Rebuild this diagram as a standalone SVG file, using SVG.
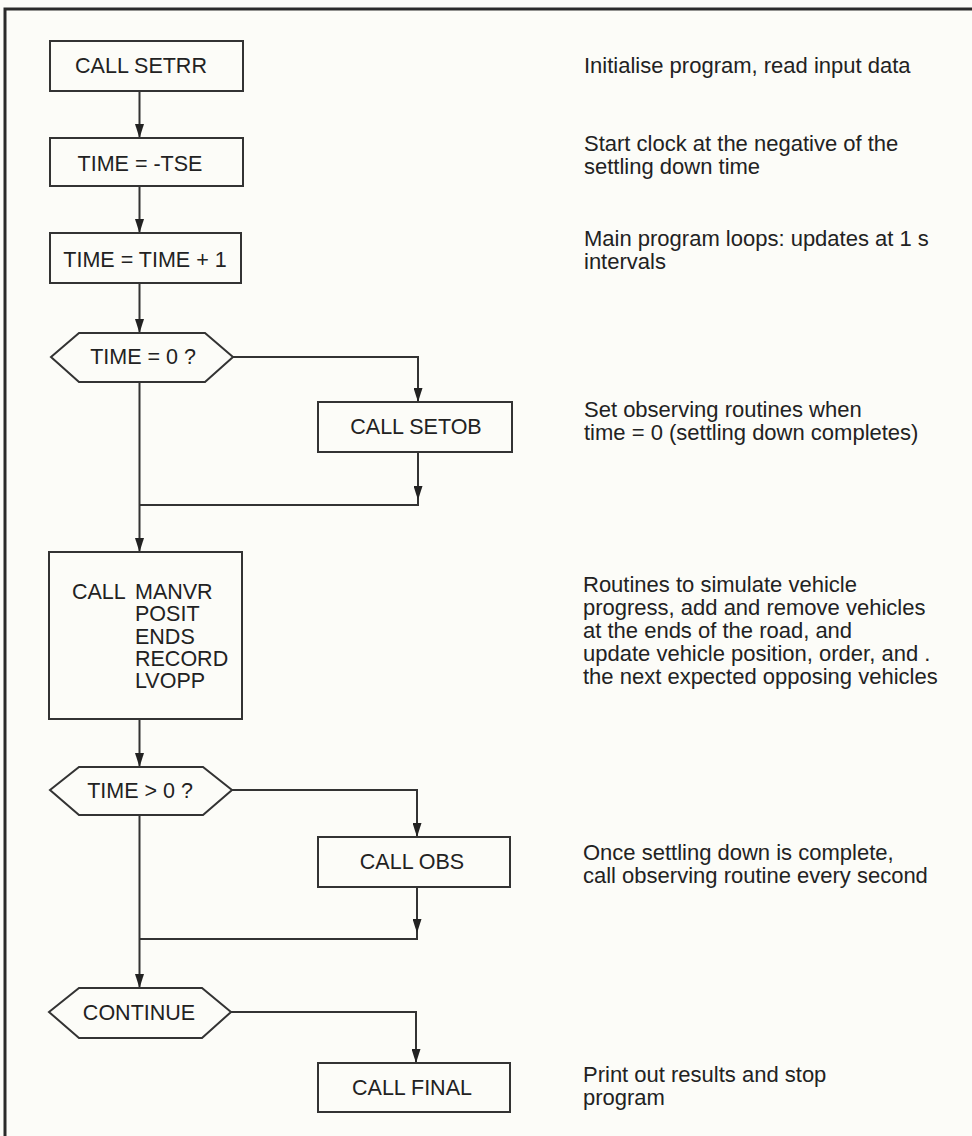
<svg xmlns="http://www.w3.org/2000/svg" width="972" height="1136" viewBox="0 0 972 1136">
<style>
.bg{fill:#fcfcf8}
.frame{fill:none;stroke:#2a2a2a;stroke-width:3}
.box{fill:none;stroke:#333;stroke-width:2}
.ln{fill:none;stroke:#333;stroke-width:2}
.t{font-family:"Liberation Sans",Arial,sans-serif;font-size:21.5px;fill:#222}
.c{text-anchor:middle}
.n{font-family:"Liberation Sans",Arial,sans-serif;font-size:22px;fill:#222}
</style>
<defs>
<marker id="ah" markerUnits="userSpaceOnUse" markerWidth="14" markerHeight="9" refX="14" refY="4.5" orient="auto">
<path d="M0,0 L14,4.5 L0,9 z" fill="#222"/>
</marker>
</defs>
<rect class="bg" x="0" y="0" width="972" height="1136"/>
<path class="frame" d="M5,1136 L5,9 L972,9"/>

<g id="connectors">
<path class="ln" d="M139.5,91 L139.5,138" marker-end="url(#ah)"/>
<path class="ln" d="M139.5,186 L139.5,233" marker-end="url(#ah)"/>
<path class="ln" d="M139.5,283 L139.5,333" marker-end="url(#ah)"/>
<path class="ln" d="M233,357 L418,357 L418,402" marker-end="url(#ah)"/>
<path class="ln" d="M418,452 L418,500" marker-end="url(#ah)"/>
<path class="ln" d="M418,500 L418,505 L139.5,505"/>
<path class="ln" d="M139.5,382 L139.5,552" marker-end="url(#ah)"/>
<path class="ln" d="M139.5,719 L139.5,767" marker-end="url(#ah)"/>
<path class="ln" d="M232,790 L417,790 L417,837" marker-end="url(#ah)"/>
<path class="ln" d="M417,887 L417,933" marker-end="url(#ah)"/>
<path class="ln" d="M417,933 L417,939 L139.5,939"/>
<path class="ln" d="M139.5,815 L139.5,988" marker-end="url(#ah)"/>
<path class="ln" d="M231,1012 L416,1012 L416,1063" marker-end="url(#ah)"/>
</g>

<g id="setrr">
<rect class="box" x="50" y="41" width="193" height="50"/>
<text class="t c" x="141" y="73">CALL SETRR</text>
</g>
<g id="time-tse">
<rect class="box" x="50" y="138" width="193" height="48"/>
<text class="t c" x="140" y="171">TIME = -TSE</text>
</g>
<g id="time-inc">
<rect class="box" x="50" y="233" width="191" height="50"/>
<text class="t c" x="145" y="267">TIME = TIME + 1</text>
</g>
<g id="dec-time0">
<polygon class="box" points="51,357 79,333 205,333 233,357 205,382 79,382"/>
<text class="t c" x="143" y="364">TIME = 0 ?</text>
</g>
<g id="setob">
<rect class="box" x="318" y="402" width="194" height="50"/>
<text class="t c" x="416" y="434">CALL SETOB</text>
</g>
<g id="manvr">
<rect class="box" x="49" y="552" width="193" height="167"/>
<text class="t"><tspan x="72" y="599">CALL</tspan><tspan x="135" y="599">MANVR</tspan><tspan x="135" y="621">POSIT</tspan><tspan x="135" y="643.5">ENDS</tspan><tspan x="135" y="666">RECORD</tspan><tspan x="135" y="688">LVOPP</tspan></text>
</g>
<g id="dec-timegt0">
<polygon class="box" points="50,790 79,767 203,767 232,790 203,815 79,815"/>
<text class="t c" x="140" y="798">TIME &gt; 0 ?</text>
</g>
<g id="obs">
<rect class="box" x="318" y="837" width="192" height="50"/>
<text class="t c" x="412" y="869">CALL OBS</text>
</g>
<g id="dec-continue">
<polygon class="box" points="49,1012 79,988 202,988 231,1012 202,1038 79,1038"/>
<text class="t c" x="139" y="1020">CONTINUE</text>
</g>
<g id="final">
<rect class="box" x="318" y="1063" width="192" height="49"/>
<text class="t c" x="412" y="1095">CALL FINAL</text>
</g>

<g id="notes">
<text class="n" x="584" y="73">Initialise program, read input data</text>
<text class="n"><tspan x="584" y="151">Start clock at the negative of the</tspan><tspan x="584" y="174">settling down time</tspan></text>
<text class="n"><tspan x="584" y="246">Main program loops: updates at 1 s</tspan><tspan x="584" y="269">intervals</tspan></text>
<text class="n"><tspan x="584" y="417">Set observing routines when</tspan><tspan x="584" y="440">time = 0 (settling down completes)</tspan></text>
<text class="n"><tspan x="583" y="592">Routines to simulate vehicle</tspan><tspan x="583" y="615">progress, add and remove vehicles</tspan><tspan x="583" y="638">at the ends of the road, and</tspan><tspan x="583" y="661">update vehicle position, order, and .</tspan><tspan x="583" y="684">the next expected opposing vehicles</tspan></text>
<text class="n"><tspan x="583" y="860">Once settling down is complete,</tspan><tspan x="583" y="883">call observing routine every second</tspan></text>
<text class="n"><tspan x="583" y="1082">Print out results and stop</tspan><tspan x="583" y="1105">program</tspan></text>
</g>
</svg>
